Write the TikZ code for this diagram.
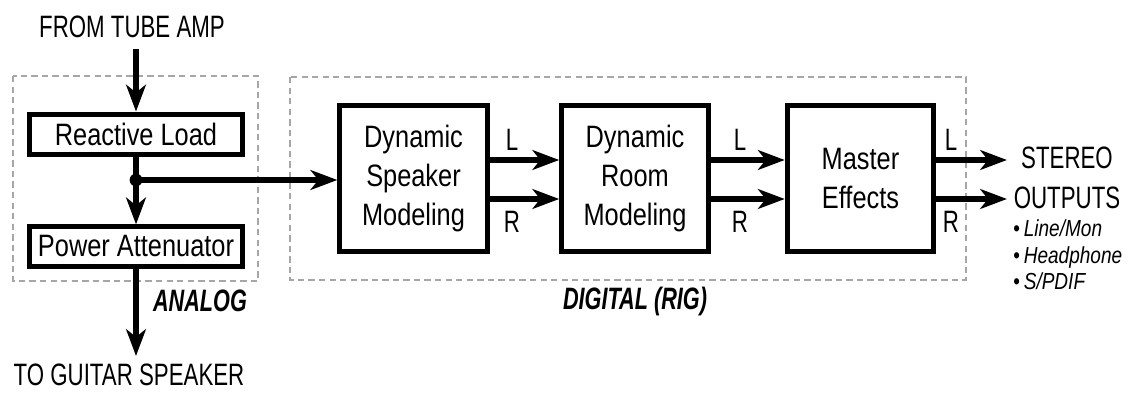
\documentclass[tikz,border=0pt]{standalone}
\usepackage{fontspec}
\setmainfont{Liberation Sans}[FakeStretch=0.82]
\newfontfamily\capsf{Liberation Sans}[FakeStretch=0.72]
\newfontfamily\tagf{Liberation Sans}[FakeStretch=0.7]
\usetikzlibrary{arrows.meta}

\tikzset{
  blk/.style={draw, line width=3.6pt, align=center, inner sep=0pt},
  arr/.style={line width=4pt, -{Stealth[length=19pt,width=14pt,inset=5.5pt]}},
  grp/.style={draw=black!35, line width=1.4pt, dash pattern=on 4.5pt off 3pt},
  txt/.style={font=\fontsize{22}{27.6}\selectfont, inner sep=0pt},
  captxt/.style={font=\fontsize{22}{28}\selectfont\capsf, inner sep=0pt},
  sml/.style={font=\fontsize{16.5}{19}\selectfont, inner sep=0pt},
  tag/.style={font=\fontsize{22}{25}\selectfont\tagf\bfseries\itshape, inner sep=0pt}
}

\begin{document}
\begin{tikzpicture}[x=0.025cm,y=-0.025cm]
\useasboundingbox (0,0) rectangle (1130,393);

\draw[grp] (13,76) rectangle (258,281);
\draw[grp] (290,77) rectangle (966,280);

\node[captxt] (src) at (132,27) {FROM TUBE AMP};
\node[blk,txt,minimum width=5.33cm,minimum height=1.02cm] (rl) at (136,134.5) {Reactive Load};
\node[blk,txt,minimum width=5.33cm,minimum height=0.98cm] (pa) at (136,246.5) {Power Attenuator};
\node[captxt] (spkr) at (129,375) {TO GUITAR SPEAKER};
\node[tag] (analog) at (200,301) {ANALOG};

\node[blk,txt,minimum width=3.68cm,minimum height=3.63cm] (spk) at (413.5,178.5) {Dynamic\\Speaker\\Modeling};
\node[blk,txt,minimum width=3.66cm,minimum height=3.63cm] (room) at (635,178.5) {Dynamic\\Room\\Modeling};
\node[blk,txt,minimum width=3.66cm,minimum height=3.63cm] (mfx) at (860.5,178.5) {Master\\Effects};
\node[tag] (digital) at (635,301) {DIGITAL (RIG)};

\coordinate (top) at (136,49);
\coordinate (j) at (136,180);
\coordinate (bot) at (136,356);

\draw[arr] (top) -- (rl);
\draw[line width=4pt] (rl) -- (j);
\draw[arr] (j) -- (pa);
\draw[arr] (j) -- (j -| spk.west);
\fill (j) circle (0.16cm);
\draw[arr] (pa) -- (bot);

% stereo links
\foreach \a/\b/\x in {spk/room/512, room/mfx/740}{
  \draw[arr] (\a.east |- 0,160) -- (\b.west |- 0,160);
  \draw[arr] (\a.east |- 0,199) -- (\b.west |- 0,199);
  \node[captxt] (L-\a) at (\x,140) {L};
  \node[captxt] (R-\a) at (\x,222) {R};
}

\coordinate (oL) at (1007,160);
\coordinate (oR) at (1007,199);
\draw[arr] (mfx.east |- oL) -- (oL);
\draw[arr] (mfx.east |- oR) -- (oR);
\node[captxt] (L-mfx) at (951,140) {L};
\node[captxt] (R-mfx) at (951,222) {R};

\node[captxt,align=center] (out) at (1067,178) {STEREO\\OUTPUTS};
\foreach \t/\y/\n in {{Line/Mon}/236.5/o1, {Headphone}/263/o2, {S/PDIF}/289/o3}{
  \node[sml,anchor=base west] (\n) at (1013,\y) {\textbullet\,\textit{\t}};
}
\end{tikzpicture}
\end{document}
